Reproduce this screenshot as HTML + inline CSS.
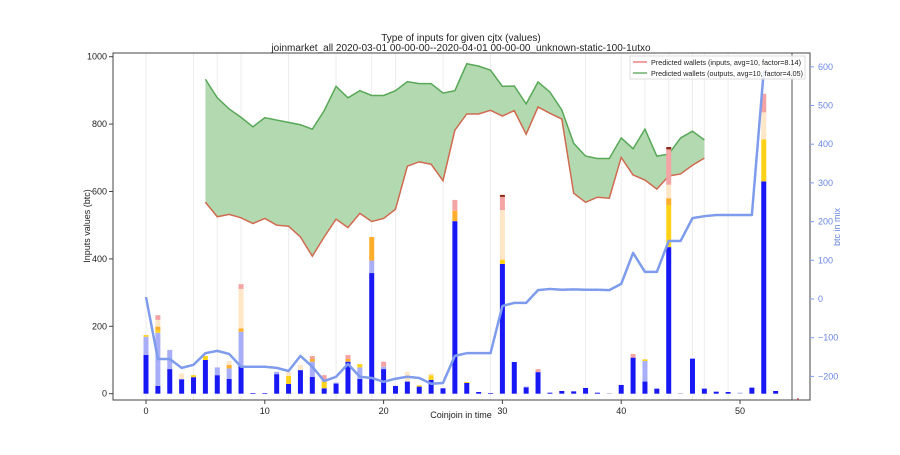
<!DOCTYPE html>
<html><head><meta charset="utf-8"><style>
body{margin:0;background:#fff}
svg text{font-family:"Liberation Sans","DejaVu Sans",sans-serif}
</style></head><body>
<svg id="c" width="900" height="450" xmlns="http://www.w3.org/2000/svg"></svg>
<script>
const idx=[...Array(54).keys()];
const redIdx=[5,6,7,8,9,10,11,12,13,14,15,16,17,18,19,20,21,22,23,24,25,26,27,28,29,30,31,32,33,34,35,36,37,38,39,40,41,42,43,44,45,46,47];
const redVals=[568,525,532,522,505,520,500,497,465,408,465,518,493,535,511,520,547,675,688,681,632,782,830,830,841,824,840,770,851,832,815,595,568,583,580,701,649,634,607,646,652,678,699];
const greenVals=[933,878,845,820,792,819,812,805,798,785,840,912,878,899,885,885,899,926,920,920,892,899,979,972,960,912,913,860,925,895,842,743,705,698,698,759,727,785,705,711,759,779,753];
const mixVals=[5,-155,-155,-178,-170,-140,-134,-142,-175,-175,-175,-178,-186,-147,-175,-212,-201,-168,-201,-204,-214,-206,-201,-204,-219,-217,-147,-140,-140,-140,-18,-10,-10,23,26,24,25,24,24,23,39,119,70,70,150,150,209,214,217,217,217,217,590];
// stacked segments: [blue, lightblue, yellow, orange, tan, pink, darkred] cumulative tops
const stacks=[
[115,169,174,174,174,174,174],[23,181,189,199,219,233,233],[73,130,130,130,130,130,130],[43,43,43,43,60,60,60],
[49,49,55,55,55,55,55],[100,100,112,112,112,112,112],[55,78,78,78,78,78,78],[44,75,75,85,97,97,97],
[82,184,184,194,311,325,325],[2,2,2,2,2,2,2],[2,2,2,2,2,2,2],[58,65,65,65,65,65,65],
[29,29,53,53,65,65,65],[70,70,70,70,85,85,85],[50,95,95,103,103,112,112],[16,16,36,36,36,55,55],
[30,33,33,33,33,33,33],[95,95,95,103,103,115,115],[44,78,88,88,88,88,88],[358,395,395,465,465,465,465],
[73,80,80,80,80,95,95],[23,23,23,23,23,23,23],[36,36,36,36,65,65,65],[21,21,25,25,25,25,25],
[41,41,55,55,60,60,60],[16,16,16,16,16,16,16],[512,512,512,543,543,575,575],[32,32,35,35,35,35,35],
[5,5,5,5,5,5,5],[2,2,2,2,2,2,2],[385,385,398,398,545,584,590],[94,94,94,94,94,94,94],
[19,21,21,21,21,21,21],[64,64,64,64,64,73,73],[3,3,3,3,3,3,3],[8,8,8,8,8,8,8],
[7,7,7,7,7,7,7],[17,17,17,17,17,17,17],[3,3,3,3,3,3,3],[0,2,2,2,2,2,2],
[26,26,26,26,26,26,26],[107,107,107,107,107,118,115],[36,97,102,102,102,102,102],[15,15,15,15,15,15,15],
[435,435,560,580,620,725,732],[0,2,2,2,2,2,2],[104,104,104,104,104,104,104],[15,15,15,15,15,15,15],
[6,6,6,6,6,6,6],[5,5,5,5,5,5,5],[0,3,3,3,3,3,3],[18,18,18,18,18,18,18],
[630,630,755,755,835,890,890],[8,8,8,8,8,8,8]];
const segColors=["#1818f5","#a8aef8","#ffd21a","#ffad2a","#ffe6c6","#f4a4a4","#8b2a1a"];
const gridIdx=[0,4,6,8,12,16,19,21,25,29,37,40,42,44,46,47,49];
const xTicks=[0,10,20,30,40,50];
const yTicks=[0,200,400,600,800,1000];
const rTicks=[-200,-100,0,100,200,300,400,500,600];

const L=113,R=810,T=53,B=400;
const X=v=>146+v*11.88;
const Y=v=>393.7-v*0.337;
const YR=v=>299-v*0.387;
const svg=document.getElementById('c');
const NS='http://www.w3.org/2000/svg';
function mk(t,a,p){const e=document.createElementNS(NS,t);for(const k in a)e.setAttribute(k,a[k]);(p||svg).appendChild(e);return e;}

mk('rect',{x:L,y:T,width:R-L,height:B-T,fill:'#fff'});
gridIdx.forEach(i=>{const g=mk('line',{x1:X(i),x2:X(i),y1:T,y2:B,stroke:'#ededed','stroke-width':1});

});

let pts=redIdx.map((i,k)=>X(i)+','+Y(greenVals[k])).concat(redIdx.slice().reverse().map((i,k)=>X(i)+','+Y(redVals[redIdx.length-1-k])));
const area=mk('polygon',{points:pts.join(' '),fill:'#b3d9b0'});


const gl=mk('polyline',{points:redIdx.map((i,k)=>X(i)+','+Y(greenVals[k])).join(' '),fill:'none',stroke:'#58a858','stroke-width':1.5});


const rl=mk('polyline',{points:redIdx.map((i,k)=>X(i)+','+Y(redVals[k])).join(' '),fill:'none',stroke:'#d06a50','stroke-width':1.5});



stacks.forEach((s,i)=>{let prev=0;s.forEach((top,j)=>{if(top>prev){const r=mk('rect',{x:X(i)-2.5,width:5,y:Y(top),height:Y(prev)-Y(top),fill:segColors[j]});

prev=top;}});});

const ml=mk('polyline',{points:mixVals.map((v,i)=>X(i)+','+YR(v)).join(' '),fill:'none',stroke:'#7f9cec','stroke-width':2.5,'stroke-linejoin':'round'});



mk('line',{x1:792,x2:792,y1:T,y2:B,stroke:'#555','stroke-width':1});
mk('rect',{x:797,y:398,width:2,height:2,fill:'#f08080'});
mk('rect',{x:L,y:T,width:R-L,height:B-T,fill:'none',stroke:'#444','stroke-width':1});

xTicks.forEach(v=>{mk('line',{x1:X(v),x2:X(v),y1:B,y2:B+4,stroke:'#444'});const t=mk('text',{x:X(v),y:B+14,'font-size':9,'text-anchor':'middle',fill:'#222'});t.textContent=v;

});
yTicks.forEach(v=>{mk('line',{x1:L-4,x2:L,y1:Y(v),y2:Y(v),stroke:'#444'});const t=mk('text',{x:L-6,y:Y(v)+3,'font-size':9,'text-anchor':'end',fill:'#222'});t.textContent=v;

});
rTicks.forEach(v=>{mk('line',{x1:R,x2:R+4,y1:YR(v),y2:YR(v),stroke:'#7f9cec'});const t=mk('text',{x:R+8,y:YR(v)+3,'font-size':9,fill:'#6a86e0'});t.textContent=v<0?'\u2212'+(-v):v;

});
</script>
<svg width="900" height="450" style="position:absolute;left:0;top:0" xmlns="http://www.w3.org/2000/svg">
<text x="461" y="41" font-size="10" text-anchor="middle" fill="#222">Type of inputs for given cjtx (values)</text>
<text x="461" y="51" font-size="10" text-anchor="middle" fill="#222">joinmarket_all 2020-03-01 00-00-00--2020-04-01 00-00-00_unknown-static-100-1utxo</text>
<text x="461" y="418" font-size="9" text-anchor="middle" fill="#222">Coinjoin in time</text>
<text transform="translate(90,226) rotate(-90)" font-size="9" text-anchor="middle" fill="#222">Inputs values (btc)</text>
<text transform="translate(840,227) rotate(-90)" font-size="9" text-anchor="middle" fill="#6a86e0">btc in mix</text>
<g>
<rect x="630" y="56" width="175" height="23" fill="#fff" fill-opacity="0.85" stroke="#ddd"/>
<line x1="633" x2="647" y1="62" y2="62" stroke="#f08080" stroke-width="1.5"/>
<text x="651" y="65" font-size="7.5" fill="#222" textLength="150" lengthAdjust="spacingAndGlyphs">Predicted wallets (inputs, avg=10, factor=8.14)</text>
<line x1="633" x2="647" y1="73" y2="73" stroke="#6ab06a" stroke-width="1.5"/>
<text x="651" y="76" font-size="7.5" fill="#222" textLength="152" lengthAdjust="spacingAndGlyphs">Predicted wallets (outputs, avg=10, factor=4.05)</text>
</g>
</svg>
</body></html>
